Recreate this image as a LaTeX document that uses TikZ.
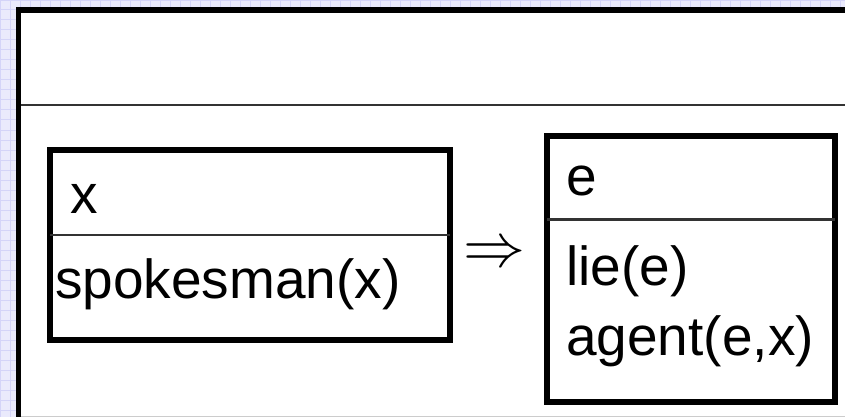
\documentclass[tikz,border=0pt]{standalone}
\usepackage{fontspec}
\setmainfont{Liberation Sans}
\usepackage{xcolor}
\usetikzlibrary{positioning}

\definecolor{paper}{RGB}{234,234,252}
\definecolor{gridblue}{RGB}{212,212,248}

\tikzset{
  drsbox/.style={draw, line width=6pt, outer sep=0pt, inner sep=0pt, fill=white},
  drsline/.style={line width=2.5pt, black!80},
  cond/.style={anchor=base west, inner sep=0pt, font=\fontsize{55}{60}\selectfont}
}

\begin{document}
\begin{tikzpicture}[x=1pt,y=-1pt]
        \useasboundingbox (0,0) rectangle (845,417);
        \clip (0,0) rectangle (845,417);

        % background sheet
        \fill[paper] (0,0) rectangle (845,417);
        \draw[gridblue, line width=1pt, step=10pt] (0,0) grid (845,417);

        % outer panel
        \fill[white] (18,10) rectangle (850,416);
        \draw[line width=6pt] (16,10) -- (850,10);
        \draw[line width=5pt] (18.5,7) -- (18.5,420);
        \draw[drsline] (21,105) -- (850,105);
        \draw[black!20, line width=1pt] (21,416) -- (850,416);

        % left box
        \node[drsbox, minimum width=400pt, minimum height=190pt] (B1) at (250,245) {};
        \draw[drsline] (B1.west |- 0,235) -- (B1.east |- 0,235);
        \node[cond] (B1ref) at (70,213) {x};
        \node[cond] (B1cond) at (55,298) {spokesman(x)};

        % implication
        \node[inner sep=0pt] (imp) at (494,255) {\scalebox{6.2}{$\Rightarrow$}};

        % right box
        \node[drsbox, minimum width=288pt, minimum height=266pt] (B2) at (691,269) {};
        \draw[drsline] (B2.west |- 0,219.5) -- (B2.east |- 0,219.5);
        \node[cond] (B2ref) at (566,195) {e};
        \node[cond] (B2cond1) at (566,285) {lie(e)};
        \node[cond] (B2cond2) at (566,355) {agent(e,x)};
\end{tikzpicture}
\end{document}
